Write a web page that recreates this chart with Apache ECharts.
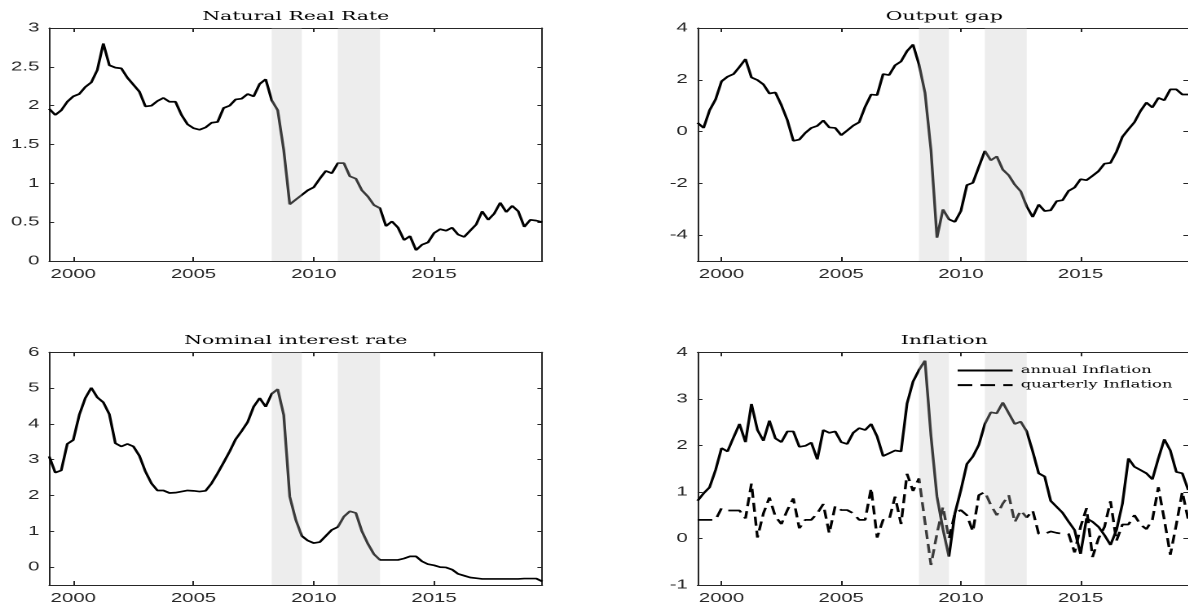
<!DOCTYPE html>
<html>
<head>
<meta charset="utf-8">
<script src="https://cdn.jsdelivr.net/npm/echarts@6/dist/echarts.min.js"></script>
<style>
  html, body { margin: 0; padding: 0; background: #fff; overflow: hidden; }
  #chart { position: absolute; left: 0; top: 0; height: 610px; transform-origin: 0 0; }
</style>
</head>
<body>
<div id="chart"></div>
<script>
// Quarterly series, 1999Q1 .. 2019Q3
const firstQuarter = 1999.0;

const naturalRate = [
  1.96, 1.88, 1.94, 2.05, 2.12, 2.15, 2.24, 2.30, 2.46, 2.80,
  2.52, 2.49, 2.48, 2.36, 2.27, 2.18, 1.99, 2.00, 2.06, 2.10,
  2.05, 2.05, 1.88, 1.76, 1.71, 1.69, 1.72, 1.78, 1.79, 1.97,
  2.00, 2.08, 2.09, 2.15, 2.12, 2.28, 2.34, 2.07, 1.94, 1.43,
  0.73, 0.79, 0.85, 0.91, 0.95, 1.06, 1.16, 1.13, 1.26, 1.26,
  1.09, 1.06, 0.91, 0.83, 0.72, 0.68, 0.45, 0.51, 0.43, 0.27,
  0.32, 0.14, 0.21, 0.24, 0.36, 0.41, 0.39, 0.43, 0.34, 0.31,
  0.39, 0.47, 0.64, 0.53, 0.61, 0.75, 0.63, 0.71, 0.64, 0.44,
  0.53, 0.52, 0.50
];

const outputGap = [
  0.34, 0.14, 0.82, 1.24, 1.94, 2.12, 2.22, 2.50, 2.80, 2.09,
  1.99, 1.82, 1.47, 1.51, 1.02, 0.44, -0.36, -0.31, -0.05, 0.14,
  0.22, 0.43, 0.16, 0.14, -0.14, 0.04, 0.23, 0.36, 0.96, 1.43,
  1.41, 2.22, 2.18, 2.56, 2.71, 3.11, 3.36, 2.59, 1.50, -0.72,
  -4.10, -3.01, -3.39, -3.49, -3.07, -2.07, -1.98, -1.36, -0.75, -1.11,
  -0.96, -1.47, -1.69, -2.05, -2.31, -2.89, -3.30, -2.82, -3.07, -3.04,
  -2.69, -2.65, -2.29, -2.16, -1.84, -1.88, -1.71, -1.53, -1.24, -1.21,
  -0.78, -0.20, 0.09, 0.36, 0.79, 1.12, 0.93, 1.30, 1.21, 1.63,
  1.63, 1.43, 1.43
];

const nominalRate = [
  3.09, 2.64, 2.70, 3.44, 3.55, 4.25, 4.72, 5.01, 4.74, 4.60,
  4.27, 3.46, 3.37, 3.44, 3.37, 3.11, 2.67, 2.34, 2.14, 2.14,
  2.07, 2.08, 2.11, 2.14, 2.13, 2.11, 2.13, 2.34, 2.62, 2.92,
  3.23, 3.57, 3.80, 4.05, 4.48, 4.72, 4.48, 4.84, 4.97, 4.25,
  1.97, 1.32, 0.87, 0.74, 0.67, 0.70, 0.87, 1.04, 1.12, 1.41,
  1.56, 1.51, 1.00, 0.65, 0.36, 0.20, 0.20, 0.20, 0.20, 0.24,
  0.30, 0.30, 0.16, 0.08, 0.05, 0.00, -0.01, -0.07, -0.19, -0.24,
  -0.29, -0.31, -0.33, -0.33, -0.33, -0.33, -0.33, -0.33, -0.33, -0.32,
  -0.32, -0.32, -0.40
];

const annualInflation = [
  0.81, 0.97, 1.10, 1.47, 1.94, 1.87, 2.17, 2.46, 2.07, 2.89,
  2.33, 2.10, 2.53, 2.15, 2.07, 2.30, 2.30, 1.97, 1.99, 2.06,
  1.70, 2.33, 2.27, 2.30, 2.07, 2.03, 2.27, 2.37, 2.33, 2.46,
  2.19, 1.77, 1.83, 1.89, 1.87, 2.90, 3.37, 3.62, 3.82, 2.20,
  0.90, 0.20, -0.39, 0.54, 1.04, 1.60, 1.76, 2.01, 2.46, 2.71,
  2.69, 2.92, 2.69, 2.46, 2.51, 2.30, 1.87, 1.40, 1.33, 0.81,
  0.68, 0.55, 0.36, 0.18, -0.33, 0.43, 0.36, 0.25, 0.07, -0.14,
  0.18, 0.75, 1.72, 1.54, 1.47, 1.40, 1.27, 1.72, 2.13, 1.89,
  1.43, 1.40, 1.04
];

const quarterlyInflation = [
  0.40, 0.40, 0.40, 0.40, 0.65, 0.60, 0.60, 0.60, 0.43, 1.18,
  0.02, 0.54, 0.88, 0.47, 0.31, 0.61, 0.86, 0.22, 0.40, 0.40,
  0.54, 0.74, 0.11, 0.70, 0.61, 0.61, 0.54, 0.40, 0.40, 1.08,
  0.02, 0.40, 0.40, 0.90, 0.31, 1.39, 1.02, 1.29, 0.35, -0.57,
  0.10, 0.68, 0.00, 0.54, 0.61, 0.50, 0.15, 0.93, 1.00, 0.72,
  0.50, 0.75, 0.93, 0.35, 0.60, 0.45, 0.60, 0.10, 0.10, 0.15,
  0.12, 0.10, 0.10, -0.30, 0.25, 0.65, -0.40, 0.00, 0.25, 0.80,
  -0.05, 0.30, 0.30, 0.50, 0.30, 0.20, 0.40, 1.10, 0.40, -0.35,
  0.30, 1.00, 0.40
];

// Shaded periods (start, end) in fractional years
const shadedPeriods = [[2008.25, 2009.5], [2011.0, 2012.75]];

const yearTicks = [2000, 2005, 2010, 2015];
const naturalTicks = [0, 0.5, 1, 1.5, 2, 2.5, 3];
const gapTicks = [-4, -2, 0, 2, 4];
const nominalTicks = [0, 1, 2, 3, 4, 5, 6];
const inflationTicks = [-1, 0, 1, 2, 3, 4];

const titles = ['Natural Real Rate', 'Output gap', 'Nominal interest rate', 'Inflation'];
const legendNames = ['annual Inflation', 'quarterly Inflation'];

// The figure is drawn at a narrower width and stretched horizontally.
const S = 1.63;
const VIEW_W = 1188;
const chartDom = document.getElementById('chart');
chartDom.style.width = (VIEW_W / S) + 'px';
chartDom.style.transform = 'scaleX(' + S + ')';

const dates = naturalRate.map((_, i) => firstQuarter + i / 4);
const toPairs = vals => vals.map((v, i) => [dates[i], v]);

const AXIS_COLOR = '#262626';
const LABEL_FONT = 'Liberation Sans';
const SERIF = 'DejaVu Serif';

const panels = [
  { x0: 49.2, x1: 542.3, y0: 28, y1: 261, ymin: 0, ymax: 3, ticks: naturalTicks,
    lines: [{ name: titles[0], data: naturalRate, dashed: false }] },
  { x0: 697.6, x1: 1191.0, y0: 28, y1: 261, ymin: -5, ymax: 4, ticks: gapTicks,
    lines: [{ name: titles[1], data: outputGap, dashed: false }] },
  { x0: 49.2, x1: 542.3, y0: 352.3, y1: 585, ymin: -0.5, ymax: 6, ticks: nominalTicks,
    lines: [{ name: titles[2], data: nominalRate, dashed: false }] },
  { x0: 697.6, x1: 1191.0, y0: 352.3, y1: 585, ymin: -1, ymax: 4, ticks: inflationTicks,
    lines: [{ name: legendNames[0], data: annualInflation, dashed: false },
            { name: legendNames[1], data: quarterlyInflation, dashed: true }] }
];

const grid = [], xAxis = [], yAxis = [], series = [], graphic = [];

panels.forEach((p, i) => {
  grid.push({
    left: p.x0 / S, top: p.y0,
    width: (p.x1 - p.x0) / S, height: p.y1 - p.y0,
    containLabel: false
  });
  const xBase = {
    type: 'value', gridIndex: i, min: 1999, max: 2019.5,
    splitLine: { show: false },
    axisLine: { show: true, onZero: false, lineStyle: { color: AXIS_COLOR, width: 1 } },
    axisTick: { show: true, inside: true, length: 4, customValues: yearTicks,
                lineStyle: { color: AXIS_COLOR, width: 1 } }
  };
  xAxis.push(Object.assign({}, xBase, {
    position: 'bottom',
    axisLabel: { show: true, customValues: yearTicks, margin: 7,
                 color: AXIS_COLOR, fontFamily: LABEL_FONT, fontSize: 12.5,
                 formatter: v => String(v) }
  }));
  xAxis.push(Object.assign({}, xBase, { position: 'top', axisLabel: { show: false } }));

  const yBase = {
    type: 'value', gridIndex: i, min: p.ymin, max: p.ymax,
    splitLine: { show: false },
    axisLine: { show: true, onZero: false, lineStyle: { color: AXIS_COLOR, width: 1 } },
    axisTick: { show: true, inside: true, length: 3, customValues: p.ticks,
                lineStyle: { color: AXIS_COLOR, width: 1 } }
  };
  yAxis.push(Object.assign({}, yBase, {
    position: 'left',
    axisLabel: { show: true, customValues: p.ticks, margin: 6,
                 color: AXIS_COLOR, fontFamily: LABEL_FONT, fontSize: 12.5,
                 formatter: v => String(v) }
  }));
  yAxis.push(Object.assign({}, yBase, { position: 'right', axisLabel: { show: false } }));

  p.lines.forEach(l => {
    series.push({
      type: 'line', name: l.name,
      xAxisIndex: 2 * i, yAxisIndex: 2 * i,
      data: toPairs(l.data),
      symbol: 'none', showSymbol: false,
      lineStyle: { color: '#000', width: 1.7, type: l.dashed ? [9, 5] : 'solid' },
      itemStyle: { color: '#000' },
      z: 2, silent: true
    });
  });

  // translucent bands laid over the lines
  series.push({
    type: 'custom', name: 'shade' + i,
    xAxisIndex: 2 * i, yAxisIndex: 2 * i,
    dimensions: ['start', 'end'],
    encode: { x: ['start', 'end'] },
    data: shadedPeriods,
    z: 3, silent: true,
    renderItem: (params, api) => {
      const a = api.coord([api.value(0), p.ymin])[0];
      const b = api.coord([api.value(1), p.ymin])[0];
      const cs = params.coordSys;
      return {
        type: 'rect',
        shape: { x: a, y: cs.y, width: b - a, height: cs.height },
        style: { fill: 'rgba(196,196,196,0.3)' }
      };
    }
  });

  graphic.push({
    type: 'text',
    x: (p.x0 + p.x1) / 2 / S,
    y: p.y0 - 11.5,
    style: {
      text: titles[i], fill: '#000',
      font: '12.5px "' + SERIF + '"',
      align: 'center', verticalAlign: 'middle'
    },
    silent: true
  });
});

const chart = echarts.init(chartDom, null, { renderer: 'canvas', devicePixelRatio: 2 });
chart.setOption({
  animation: false,
  backgroundColor: '#fff',
  grid, xAxis, yAxis, series, graphic,
  legend: {
    data: legendNames,
    orient: 'vertical',
    left: 956 / S, top: 365.5,
    itemWidth: 55 / S, itemHeight: 10, itemGap: 4.6,
    padding: 0,
    itemStyle: { opacity: 0 },
    textStyle: { fontFamily: SERIF, fontSize: 10, lineHeight: 10, color: '#000' },
    selectedMode: false
  }
});
</script>
</body>
</html>
